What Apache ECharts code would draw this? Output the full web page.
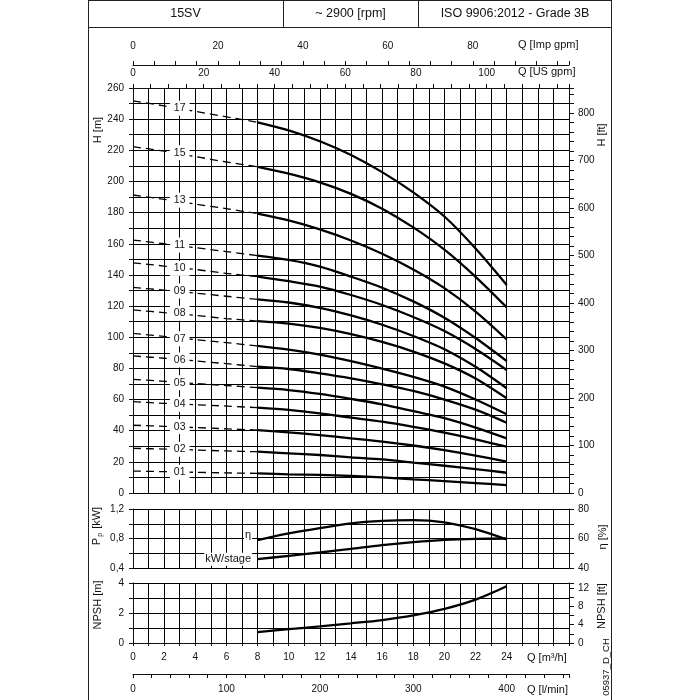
<!DOCTYPE html>
<html><head><meta charset="utf-8">
<script src="https://cdn.jsdelivr.net/npm/echarts@6/dist/echarts.min.js"></script>
<style>html,body{margin:0;padding:0;background:#fff}#c{width:700px;height:700px}</style>
</head><body><div id="c"></div>
<script>
// ---------- data ----------
const qHead = [0, 2, 4, 6, 8, 10, 12, 14, 16, 18, 20, 22, 24]; // m3/h (dashed up to 8, solid from 8)
const stages = ['01','02','03','04','05','06','07','08','09','10','11','13','15','17'];
const head01 = [14.1, 13.7, 13.3, 12.9, 12.6, 12.0, 11.6, 10.9, 10.0, 8.8, 7.6, 6.4, 5.1];
const head02 = [28.7, 28.2, 27.6, 27.0, 26.5, 25.5, 24.4, 22.9, 21.6, 19.5, 17.5, 15.3, 13.0];
const head03 = [43.5, 42.8, 42.0, 41.2, 40.4, 38.9, 37.2, 35.1, 33.0, 30.5, 27.5, 24.0, 20.1];
const head04 = [58.6, 57.6, 56.7, 55.8, 54.8, 53.3, 51.1, 48.4, 45.8, 42.5, 38.8, 34.5, 29.7];
const head05 = [73.0, 71.7, 70.3, 69.0, 67.6, 66.1, 63.6, 60.4, 56.9, 52.5, 48.0, 42.0, 35.1];
const head06 = [88.0, 86.5, 84.8, 83.0, 81.1, 79.6, 76.8, 73.6, 69.8, 65.5, 60.0, 53.5, 45.1];
const head07 = [102.5, 100.5, 98.5, 96.5, 94.4, 92.0, 88.8, 84.6, 79.8, 74.5, 68.3, 60.0, 50.5];
const head08 = [117.5, 115.8, 114.0, 112.0, 110.4, 108.8, 106.0, 102.0, 97.0, 90.8, 83.2, 73.5, 60.8];
const head09 = [132.0, 130.2, 128.3, 126.3, 124.3, 122.3, 118.8, 114.0, 108.0, 100.8, 92.3, 81.0, 67.2];
const head10 = [147.8, 145.7, 143.5, 141.0, 138.9, 136.0, 132.5, 127.1, 120.7, 113.0, 104.0, 92.5, 79.0];
const head11 = [162.4, 160.0, 157.5, 155.0, 152.4, 149.6, 145.3, 138.9, 131.8, 123.0, 112.5, 99.5, 84.7];
const head13 = [191.3, 188.5, 185.5, 182.5, 179.4, 175.0, 169.2, 162.1, 153.6, 143.5, 131.5, 116.5, 98.6];
const head15 = [222.3, 219.5, 216.0, 212.5, 209.4, 205.0, 199.4, 192.0, 182.5, 170.5, 156.2, 138.8, 119.2];
const head17 = [251.8, 248.5, 245.0, 241.5, 238.0, 232.8, 225.8, 217.0, 206.0, 193.0, 177.5, 157.0, 133.6];
const labelQ = 3;
const labelH = [13.3, 28.1, 42.6, 56.9, 70.8, 85.4, 99.0, 115.4, 129.7, 144.2, 159.2, 188.0, 218.5, 247.0];

const qPower = [8, 10, 12, 14, 16, 18, 20, 22, 24];
const eta = [58.9, 63.5, 67.0, 70.3, 72.0, 72.5, 71.0, 66.3, 59.3];          // %
const kwStage = [0.52, 0.565, 0.61, 0.66, 0.71, 0.75, 0.78, 0.795, 0.80];   // kW
const qNpsh = [8, 10, 12, 14, 16, 18, 20, 22, 24];
const npsh = [0.73, 0.92, 1.11, 1.31, 1.53, 1.84, 2.27, 2.89, 3.78];        // m

const headLabelsM = [0, 20, 40, 60, 80, 100, 120, 140, 160, 180, 200, 220, 240, 260];
const headLabelsFt = [0, 100, 200, 300, 400, 500, 600, 700, 800];
const kwLabels = [0.4, 0.8, 1.2];
const etaLabels = [40, 60, 80];
const npshLabelsM = [0, 2, 4];
const npshLabelsFt = [0, 4, 8, 12];
const qLabels = [0, 2, 4, 6, 8, 10, 12, 14, 16, 18, 20, 22, 24];
const usLabels = [0, 20, 40, 60, 80, 100];
const impLabels = [0, 20, 40, 60, 80];
const lminLabels = [0, 100, 200, 300, 400];

// ---------- unit conversions ----------
const Q_MAX = 28;
const US_PER_M3H = 4.402868, IMP_PER_M3H = 3.666154, LMIN_PER_M3H = 1000 / 60, FT_PER_M = 1 / 0.3048;

const heads = [head01, head02, head03, head04, head05, head06, head07, head08, head09, head10, head11, head13, head15, head17];
const FONT = 'Liberation Sans';
const TXT = '#111';
const LC = '#111';
const near = (v, arr) => arr.some(a => Math.abs(a - v) < 1e-6);
const lab = (arr, fmt) => ({
  show: true, color: TXT, fontSize: 10, fontFamily: FONT, margin: 9,
  formatter: v => near(v, arr) ? (fmt ? fmt(v) : String(Math.round(v * 100) / 100)) : ''
});
const hiddenAxis = (o) => Object.assign({
  type: 'value', axisLine: { show: false, onZero: false }, axisTick: { show: false },
  axisLabel: { show: false }, splitLine: { show: false }
}, o);
const gridAxisLine = { show: true, onZero: false, lineStyle: { color: LC, width: 1 } };
const split = { show: true, lineStyle: { color: '#000', width: 1 } };
const tick = (len) => ({ show: true, length: len, lineStyle: { color: LC, width: 1 } });

const G = { left: 133, width: 436 };

const option = {
  animation: false,
  backgroundColor: '#fff',
  grid: [
    { left: G.left, width: G.width, top: 88, height: 405, show: false },   // H
    { left: G.left, width: G.width, top: 509, height: 59, show: false },   // power / eta
    { left: G.left, width: G.width, top: 583, height: 60, show: false },   // NPSH
    { left: G.left, width: G.width, top: 65, height: 4, show: false },     // Imp gpm holder
    { left: G.left, width: G.width, top: 670, height: 4, show: false }     // l/min holder
  ],
  xAxis: [
    hiddenAxis({ gridIndex: 0, min: 0, max: Q_MAX, interval: 1, position: 'bottom', splitLine: split }),
    { type: 'value', gridIndex: 0, position: 'top', min: 0, max: Q_MAX * US_PER_M3H, interval: 5,
      axisLine: gridAxisLine, axisTick: tick(4), splitLine: { show: false },
      axisLabel: Object.assign(lab(usLabels), { margin: 10 }) },
    hiddenAxis({ gridIndex: 1, min: 0, max: Q_MAX, interval: 1, splitLine: split }),
    { type: 'value', gridIndex: 2, position: 'bottom', min: 0, max: Q_MAX, interval: 1,
      axisLine: gridAxisLine, axisTick: tick(3), splitLine: split,
      axisLabel: Object.assign(lab(qLabels), { margin: 9 }) },
    { type: 'value', gridIndex: 3, position: 'top', min: 0, max: Q_MAX * IMP_PER_M3H, interval: 5,
      axisLine: gridAxisLine, axisTick: tick(4), splitLine: { show: false },
      axisLabel: Object.assign(lab(impLabels), { margin: 14 }) },
    { type: 'value', gridIndex: 4, position: 'bottom', min: 0, max: Q_MAX * LMIN_PER_M3H, interval: 20,
      axisLine: gridAxisLine, axisTick: tick(4), splitLine: { show: false },
      axisLabel: Object.assign(lab(lminLabels), { margin: 10 }) }
  ],
  yAxis: [
    { type: 'value', gridIndex: 0, position: 'left', min: 0, max: 260, interval: 10,
      axisLine: gridAxisLine, axisTick: tick(4), splitLine: split, axisLabel: lab(headLabelsM) },
    { type: 'value', gridIndex: 0, position: 'right', min: 0, max: 260 * FT_PER_M, interval: 20,
      axisLine: gridAxisLine, axisTick: tick(5), splitLine: { show: false }, axisLabel: lab(headLabelsFt) },
    { type: 'value', gridIndex: 1, position: 'left', min: 0.4, max: 1.2, interval: 0.2,
      axisLine: gridAxisLine, axisTick: tick(4), splitLine: split,
      axisLabel: lab(kwLabels, v => v.toFixed(1).replace('.', ',')) },
    { type: 'value', gridIndex: 1, position: 'right', min: 40, max: 80, interval: 10,
      axisLine: gridAxisLine, axisTick: tick(5), splitLine: { show: false }, axisLabel: lab(etaLabels) },
    { type: 'value', gridIndex: 2, position: 'left', min: 0, max: 4, interval: 1,
      axisLine: gridAxisLine, axisTick: tick(4), splitLine: split, axisLabel: lab(npshLabelsM) },
    { type: 'value', gridIndex: 2, position: 'right', min: 0, max: 4 * FT_PER_M, interval: 2,
      axisLine: gridAxisLine, axisTick: tick(5), splitLine: { show: false }, axisLabel: lab(npshLabelsFt) },
    hiddenAxis({ gridIndex: 3, min: 0, max: 1 }),
    hiddenAxis({ gridIndex: 4, min: 0, max: 1 })
  ],
  series: [],
  graphic: []
};

// head curves
stages.forEach((s, i) => {
  const h = heads[i];
  option.series.push({
    type: 'line', xAxisIndex: 0, yAxisIndex: 0, symbol: 'none', smooth: 0.3, silent: true, z: 3,
    data: qHead.slice(0, 5).map((q, k) => [q, h[k]]),
    lineStyle: { color: '#000', width: 1.3, type: [8, 5] }
  });
  option.series.push({
    type: 'line', xAxisIndex: 0, yAxisIndex: 0, symbol: 'none', smooth: 0.3, silent: true, z: 3,
    data: qHead.slice(4).map((q, k) => [q, h[k + 4]]),
    lineStyle: { color: '#000', width: 2.3 }
  });
});
const labelSeries = (xi, yi, data, fmt, pos, extra) => ({
  type: 'scatter', xAxisIndex: xi, yAxisIndex: yi, z: 6, silent: true, symbolSize: 1,
  itemStyle: { color: 'rgba(255,255,255,0)', opacity: 1 }, data,
  label: Object.assign({ show: true, position: pos, formatter: fmt, backgroundColor: '#fff',
    fontFamily: FONT, color: TXT, opacity: 1 }, extra)
});
option.series.push(labelSeries(0, 0, stages.map((s, i) => [labelQ, labelH[i], s]), p => p.value[2], 'inside',
  { padding: [2, 4], lineHeight: 11, fontSize: 10.5 }));

// power / efficiency
option.series.push({
  type: 'line', xAxisIndex: 2, yAxisIndex: 3, symbol: 'none', smooth: 0.3, silent: true, z: 3,
  data: qPower.map((q, k) => [q, eta[k]]), lineStyle: { color: '#000', width: 2.3 }
});
option.series.push({
  type: 'line', xAxisIndex: 2, yAxisIndex: 2, symbol: 'none', smooth: 0.3, silent: true, z: 3,
  data: qPower.map((q, k) => [q, kwStage[k]]), lineStyle: { color: '#000', width: 2.3 }
});
option.series.push(labelSeries(2, 3, [[qPower[0], eta[0]]], 'η', 'left',
  { distance: 5, offset: [0, -5], padding: [1, 1], fontSize: 11 }));
option.series.push(labelSeries(2, 2, [[qPower[0], kwStage[0]]], 'kW/stage', 'left',
  { distance: 5, padding: [1, 1], fontSize: 11 }));

// NPSH
option.series.push({
  type: 'line', xAxisIndex: 3, yAxisIndex: 4, symbol: 'none', smooth: 0.3, silent: true, z: 3,
  data: qNpsh.map((q, k) => [q, npsh[k]]), lineStyle: { color: '#000', width: 2.3 }
});

// frame / header / axis names
const ln = (x1, y1, x2, y2) => ({ type: 'line', silent: true, shape: { x1, y1, x2, y2 }, style: { stroke: '#222', lineWidth: 1 } });
const tx = (text, x, y, o) => Object.assign({
  type: 'text', silent: true, x, y,
  style: Object.assign({ text, fill: TXT, fontSize: 11, fontFamily: FONT, align: 'center', verticalAlign: 'middle' }, (o && o.style) || {})
}, o && o.rotation !== undefined ? { rotation: o.rotation } : {});
const R = Math.PI / 2;
option.graphic = [
  ln(88.5, 0.5, 611.5, 0.5), ln(88.5, 27.5, 611.5, 27.5),
  ln(88.5, 0, 88.5, 700), ln(611.5, 0, 611.5, 700),
  ln(283.5, 0, 283.5, 27.5), ln(418.5, 0, 418.5, 27.5),
  tx('15SV', 185.5, 14, { style: { fontSize: 12.5 } }),
  tx('~ 2900 [rpm]', 350.5, 14, { style: { fontSize: 12.5 } }),
  tx('ISO 9906:2012 - Grade 3B', 515, 14, { style: { fontSize: 12.5 } }),
  tx('Q [Imp gpm]', 518, 45, { style: { align: 'left' } }),
  tx('Q [US gpm]', 518, 72, { style: { align: 'left' } }),
  tx('Q [m³/h]', 527, 658, { style: { align: 'left' } }),
  tx('Q [l/min]', 527, 690, { style: { align: 'left' } }),
  tx('H [m]', 98, 130, { rotation: R }),
  tx('H [ft]', 602, 135, { rotation: R }),
  tx('{a|P}{b|p}{a| [kW]}', 97, 526, { rotation: R, style: { rich: { a: { fontSize: 11, fontFamily: FONT, fill: TXT }, b: { fontSize: 7, fontFamily: FONT, fill: TXT, padding: [6, 1, 0, 1] } } } }),
  tx('η [%]', 603, 537, { rotation: R }),
  tx('NPSH [m]', 98, 605, { rotation: R }),
  tx('NPSH [ft]', 602, 606, { rotation: R }),
  tx('05937_D_CH', 606, 667, { rotation: R, style: { fontSize: 9.5 } })
];

const chart = echarts.init(document.getElementById('c'), null, { renderer: 'canvas' });
chart.setOption(option);
</script></body></html>
